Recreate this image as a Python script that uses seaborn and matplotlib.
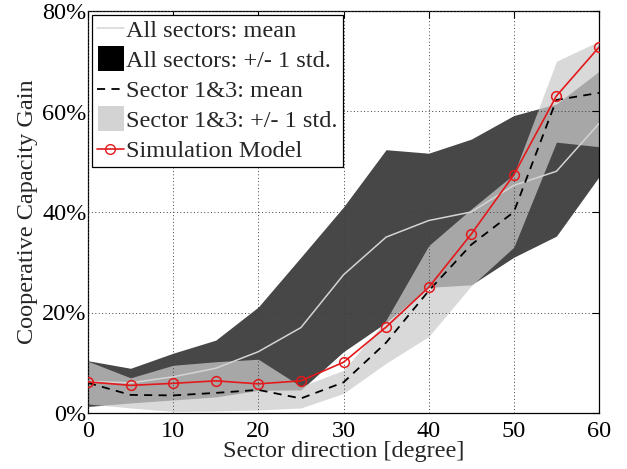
import numpy as np
import pandas as pd
import matplotlib
matplotlib.use("Agg")
import matplotlib.pyplot as plt
import seaborn as sns
from matplotlib.patches import Patch, Rectangle
from matplotlib.lines import Line2D
from matplotlib.legend_handler import HandlerPatch
from matplotlib.ticker import FuncFormatter

# ---- data (percent) ----
deg = [0, 5, 10, 15, 20, 25, 30, 35, 40, 45, 50, 55, 60]
all_mean = [6.3, 6.0, 7.2, 8.9, 12.2, 17.0, 27.5, 35.0, 38.3, 40.0, 45.3, 48.1, 57.6]
all_lo = [1.3, 2.0, 2.6, 3.2, 4.5, 4.6, 12.2, 18.0, 25.0, 25.5, 31.0, 35.2, 47.0]
all_hi = [10.4, 8.9, 11.9, 14.5, 21.1, 31.0, 41.0, 52.4, 51.7, 54.5, 59.2, 61.5, 68.0]
s13_mean = [6.0, 3.6, 3.5, 4.0, 4.6, 2.9, 6.1, 14.0, 24.3, 33.5, 40.0, 62.3, 63.7]
s13_lo = [1.8, 1.0, 0.3, 0.4, 0.6, 1.0, 3.9, 9.9, 15.2, 25.3, 33.0, 53.9, 53.0]
s13_hi = [10.3, 7.0, 9.5, 10.2, 10.7, 5.3, 8.5, 18.5, 33.3, 40.6, 47.5, 70.0, 74.0]
sim = [6.2, 5.5, 5.9, 6.4, 5.8, 6.4, 10.1, 17.1, 25.0, 35.6, 47.4, 63.1, 72.8]

labels = ["All sectors: mean", "All sectors: +/- 1 std.", "Sector 1&3: mean",
          "Sector 1&3: +/- 1 std.", "Simulation Model"]
xticks = [0, 10, 20, 30, 40, 50, 60]
yticks = [0, 20, 40, 60, 80]

sns.set_style("white")
plt.rcParams['font.family'] = ['Liberation Serif', 'DejaVu Serif']

fig = plt.figure(figsize=(6.27, 4.69), dpi=100)
ax = fig.add_axes([88/627, 1-413/469, (599-88)/627, (413-11)/469])

red = '#e3191c'
ax.fill_between(deg, all_lo, all_hi, color='black', alpha=0.72, linewidth=0, zorder=1)
ax.fill_between(deg, s13_lo, s13_hi, color=(0.80, 0.80, 0.80), alpha=0.73, linewidth=0, zorder=1.1)

sns.lineplot(x=deg, y=all_mean, ax=ax, color='#d4d4d4', linewidth=1.1, zorder=3)
sns.lineplot(x=deg, y=s13_mean, ax=ax, color='black', linewidth=1.3, zorder=3.1)
ax.lines[-1].set_dashes((4.5, 3.5))
sns.lineplot(x=deg, y=sim, ax=ax, color=red, linewidth=1.2, marker='o', markersize=7,
             markerfacecolor='none', markeredgecolor=red, markeredgewidth=1.1, zorder=3.2)

ax.set_xlim(0, 60)
ax.set_ylim(0, 80)
ax.set_xticks(xticks)
ax.set_yticks(yticks)
ax.yaxis.set_major_formatter(FuncFormatter(lambda v, p: f"{int(round(v))}%"))
ax.tick_params(direction='in', length=5, width=0.8, top=True, right=True,
               labelsize=17.5, colors='black')
ax.tick_params(axis='x', pad=6)
ax.tick_params(axis='y', pad=1)

ax.set_axisbelow(False)
ax.grid(True, color='0.25', linestyle=(0, (1, 2.5)), linewidth=0.7, zorder=2.5)
for s in ax.spines.values():
    s.set_visible(True)
    s.set_color('black')
    s.set_linewidth(0.9)

ax.set_xlabel("Sector direction [degree]", fontsize=17.5, labelpad=-1)
ax.set_ylabel("Cooperative Capacity Gain", fontsize=17.5, labelpad=3)


class SquarePatchHandler(HandlerPatch):
    def create_artists(self, legend, orig_handle, xdescent, ydescent,
                       width, height, fontsize, trans):
        side = min(width, height + 6)
        r = Rectangle((width - side - xdescent, -ydescent - 3), side, height + 6,
                      facecolor=orig_handle.get_facecolor(), edgecolor='none',
                      transform=trans)
        return [r]


handles = [
    Line2D([], [], color='#d4d4d4', linewidth=1.1),
    Patch(facecolor='black', edgecolor='none'),
    Line2D([], [], color='black', linewidth=1.3, dashes=(4.5, 3.5)),
    Patch(facecolor='#d3d3d3', edgecolor='none'),
    Line2D([], [], color=red, linewidth=1.2, marker='o', markersize=7,
           markerfacecolor='none', markeredgecolor=red),
]
leg = ax.legend(handles, labels, loc='upper left', fontsize=17.5, frameon=True,
                fancybox=False, shadow=False, borderaxespad=0.15, borderpad=0.22,
                labelspacing=0.33, handlelength=1.1, handleheight=0.7,
                handletextpad=0.1,
                handler_map={Patch: SquarePatchHandler()})
leg.get_frame().set_edgecolor('black')
leg.get_frame().set_linewidth(0.9)
leg.get_frame().set_alpha(1)
leg.set_zorder(10)

fig.savefig("out.png", dpi=100)
